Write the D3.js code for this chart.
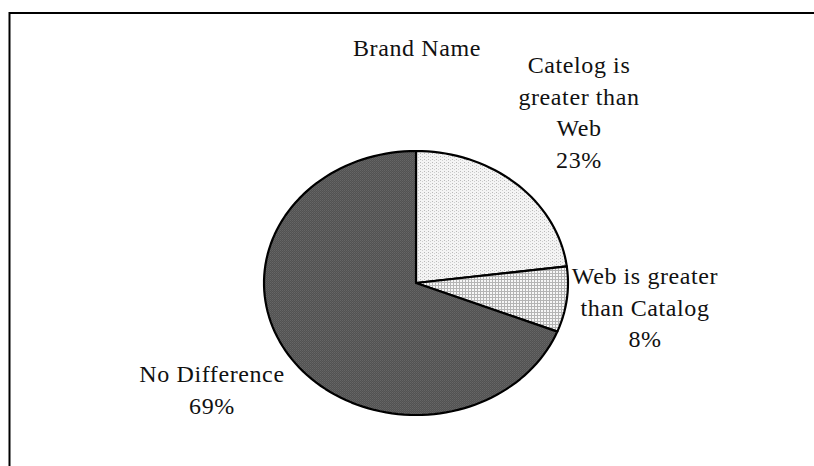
<!DOCTYPE html>
<html>
<head>
<meta charset="utf-8">
<script src="https://cdn.jsdelivr.net/npm/d3@7"></script>
<style>
  html, body { margin: 0; padding: 0; background: #fff; }
  svg { display: block; }
  text { font-family: "Liberation Serif", "Times New Roman", serif; fill: #111; letter-spacing: 0.6px; }
</style>
</head>
<body>
<svg id="chart" width="814" height="466"></svg>
<script>
// Survey result: brand name, catalog vs web
const chartTitle = "Brand Name";
const categories = ["Catelog is greater than Web", "Web is greater than Catalog", "No Difference"];
const labelLines = [
  ["Catelog is", "greater than", "Web"],
  ["Web is greater", "than Catalog"],
  ["No Difference"]
];
const values = [23, 8, 69];
const fills = ["url(#dots)", "url(#grid)", "url(#dark)"];

const W = 814, H = 466;
const svg = d3.select("#chart");

// fill patterns
const defs = svg.append("defs");
const dots = defs.append("pattern").attr("id", "dots")
  .attr("patternUnits", "userSpaceOnUse").attr("width", 4).attr("height", 3);
dots.append("rect").attr("width", 4).attr("height", 3).attr("fill", "#f4f4f4");
dots.append("rect").attr("x", 0).attr("y", 0).attr("width", 1).attr("height", 1).attr("fill", "#b8b8b8");
dots.append("rect").attr("x", 2).attr("y", 1).attr("width", 1).attr("height", 1).attr("fill", "#cfcfcf");

const grid = defs.append("pattern").attr("id", "grid")
  .attr("patternUnits", "userSpaceOnUse").attr("width", 3).attr("height", 3);
grid.append("rect").attr("width", 3).attr("height", 3).attr("fill", "#f6f6f6");
grid.append("rect").attr("x", 0).attr("y", 0).attr("width", 3).attr("height", 1).attr("fill", "#b4b4b4");
grid.append("rect").attr("x", 0).attr("y", 0).attr("width", 1).attr("height", 3).attr("fill", "#b4b4b4");

const dark = defs.append("pattern").attr("id", "dark")
  .attr("patternUnits", "userSpaceOnUse").attr("width", 2).attr("height", 2);
dark.append("rect").attr("width", 2).attr("height", 2).attr("fill", "#525252");
dark.append("rect").attr("x", 0).attr("y", 0).attr("width", 1).attr("height", 1).attr("fill", "#666666");
dark.append("rect").attr("x", 1).attr("y", 1).attr("width", 1).attr("height", 1).attr("fill", "#5e5e5e");

// frame
svg.append("path")
  .attr("d", `M9.5,${H} V13 H${W + 2}`)
  .attr("fill", "none").attr("stroke", "#000").attr("stroke-width", 2);

// elliptical pie
const cx = 416, cy = 283, rx = 152, ry = 132;
const pie = d3.pie().sort(null).value(d => d)(values);
const pt = a => [cx + rx * Math.sin(a), cy - ry * Math.cos(a)];
const line = d3.line();

const slice = d => {
  const n = Math.max(2, Math.ceil((d.endAngle - d.startAngle) / 0.04));
  const pts = [[cx, cy]];
  for (let i = 0; i <= n; i++) pts.push(pt(d.startAngle + (d.endAngle - d.startAngle) * i / n));
  return line(pts) + "Z";
};

svg.append("g").selectAll("path").data(pie).join("path")
  .attr("d", slice)
  .attr("fill", (d, i) => fills[i])
  .attr("stroke", "#000").attr("stroke-width", 2.2)
  .attr("stroke-linejoin", "round");

// title
svg.append("text").attr("x", 417).attr("y", 56)
  .attr("text-anchor", "middle").attr("font-size", 24).text(chartTitle);

// slice labels
const labelAnchors = [[579, 73], [645, 284], [212, 382]];
const lh = 31.5;
labelAnchors.forEach(([x, y], i) => {
  const t = svg.append("text").attr("text-anchor", "middle").attr("font-size", 24);
  const lines = labelLines[i].concat([values[i] + "%"]);
  lines.forEach((s, j) => {
    t.append("tspan").attr("x", x).attr("y", y + j * lh).text(s);
  });
});
</script>
</body>
</html>
